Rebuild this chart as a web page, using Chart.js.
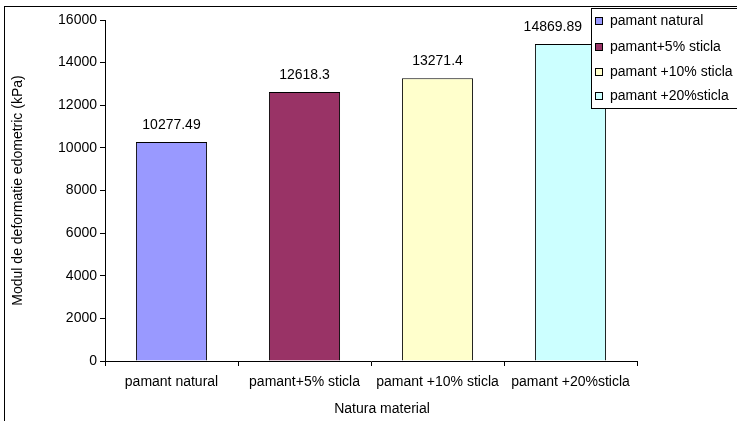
<!DOCTYPE html>
<html>
<head>
<meta charset="utf-8">
<script src="https://cdn.jsdelivr.net/npm/chart.js@4/dist/chart.umd.min.js"></script>
<style>
  html, body { margin: 0; padding: 0; background: #fff; }
  #wrap { width: 737px; height: 421px; }
</style>
</head>
<body>
<div id="wrap"><canvas id="c" width="737" height="421"></canvas></div>
<script>
// Categories and measured values
const categories = ['pamant natural', 'pamant+5% sticla', 'pamant +10% sticla', 'pamant +20%sticla'];
const values = [10277.49, 12618.3, 13271.4, 14869.89];
const valueLabels = ['10277.49', '12618.3', '13271.4', '14869.89'];
const barColors = ['#9999FF', '#993366', '#FFFFCC', '#CCFFFF'];
const yMin = 0;
const yMax = 16000;
const yStep = 2000;
const yTitle = 'Modul de deformatie edometric (kPa)';
const xTitle = 'Natura material';

const FONT = "'Liberation Sans', Arial, sans-serif";
const LEGEND_LEFT = 591;

// White background and the outer frame
const framePlugin = {
  id: 'frame',
  beforeDraw(chart) {
    const ctx = chart.ctx;
    ctx.save();
    ctx.fillStyle = '#fff';
    ctx.fillRect(0, 0, chart.width, chart.height);
    ctx.strokeStyle = '#000';
    ctx.lineWidth = 1;
    ctx.strokeRect(4.5, 6.5, 760, 440);
    ctx.restore();
  }
};

// Value printed above each bar, kept clear of the legend box
const valueLabelPlugin = {
  id: 'valueLabels',
  afterDatasetsDraw(chart) {
    const ctx = chart.ctx;
    const meta = chart.getDatasetMeta(0);
    ctx.save();
    ctx.font = '14px ' + FONT;
    ctx.fillStyle = '#000';
    ctx.textAlign = 'center';
    ctx.textBaseline = 'middle';
    meta.data.forEach((bar, i) => {
      const w = ctx.measureText(valueLabels[i]).width;
      const x = Math.min(bar.x, LEGEND_LEFT - 9 - w / 2);
      ctx.fillText(valueLabels[i], x, bar.y - 17);
    });
    ctx.restore();
  }
};

// Horizontal axis title, drawn under the category labels
const xTitlePlugin = {
  id: 'xTitle',
  afterDraw(chart) {
    const ctx = chart.ctx;
    const area = chart.chartArea;
    ctx.save();
    ctx.font = '14px ' + FONT;
    ctx.fillStyle = '#000';
    ctx.textAlign = 'center';
    ctx.textBaseline = 'middle';
    ctx.fillText(xTitle, (area.left + area.right) / 2 + 11, 409);
    ctx.restore();
  }
};

// Boxed legend in the upper right corner, one entry per category
const boxLegendPlugin = {
  id: 'boxLegend',
  afterDraw(chart) {
    const ctx = chart.ctx;
    const top = 8, bottom = 108;
    ctx.save();
    ctx.fillStyle = '#fff';
    ctx.fillRect(LEGEND_LEFT + 0.5, top + 0.5, 200, bottom - top);
    ctx.strokeStyle = '#000';
    ctx.lineWidth = 1;
    ctx.strokeRect(LEGEND_LEFT + 0.5, top + 0.5, 200, bottom - top);
    ctx.font = '14px ' + FONT;
    ctx.textAlign = 'left';
    ctx.textBaseline = 'middle';
    const rowY = [21, 47, 72, 96];
    categories.forEach((name, i) => {
      const y = rowY[i];
      ctx.fillStyle = barColors[i];
      ctx.fillRect(595.5, y - 3.5, 7, 7);
      ctx.strokeStyle = '#000';
      ctx.strokeRect(595.5, y - 3.5, 7, 7);
      ctx.fillStyle = '#000';
      ctx.fillText(name, 610, y);
    });
    ctx.restore();
  }
};

new Chart(document.getElementById('c'), {
  type: 'bar',
  data: {
    labels: categories,
    datasets: [{
      data: values,
      backgroundColor: barColors,
      borderColor: '#000',
      borderWidth: 1,
      categoryPercentage: 1.0,
      barPercentage: 0.535
    }]
  },
  options: {
    responsive: false,
    animation: false,
    devicePixelRatio: 1,
    layout: { padding: { top: 20, right: 100, left: 0, bottom: 0 } },
    plugins: {
      legend: { display: false },
      tooltip: { enabled: false }
    },
    scales: {
      x: {
        grid: { display: true, drawOnChartArea: false, tickLength: 5, color: '#000', offset: true },
        border: { color: '#000', width: 1 },
        ticks: { color: '#000', font: { family: FONT, size: 14 }, padding: 8, maxRotation: 0, autoSkip: false },
        title: { display: false, text: xTitle },
        afterFit(scale) { scale.height = 60; }
      },
      y: {
        min: yMin,
        max: yMax,
        grid: { display: true, drawOnChartArea: false, tickLength: 5, color: '#000' },
        border: { color: '#000', width: 1 },
        ticks: {
          stepSize: yStep, color: '#000', font: { family: FONT, size: 14 }, padding: 3,
          callback: (v) => String(v)
        },
        title: { display: true, text: yTitle, color: '#000', font: { family: FONT, size: 14 }, padding: { top: 10, bottom: 0 } },
        afterFit(scale) { scale.width = 105; }
      }
    }
  },
  plugins: [framePlugin, valueLabelPlugin, xTitlePlugin, boxLegendPlugin]
});
</script>
</body>
</html>
